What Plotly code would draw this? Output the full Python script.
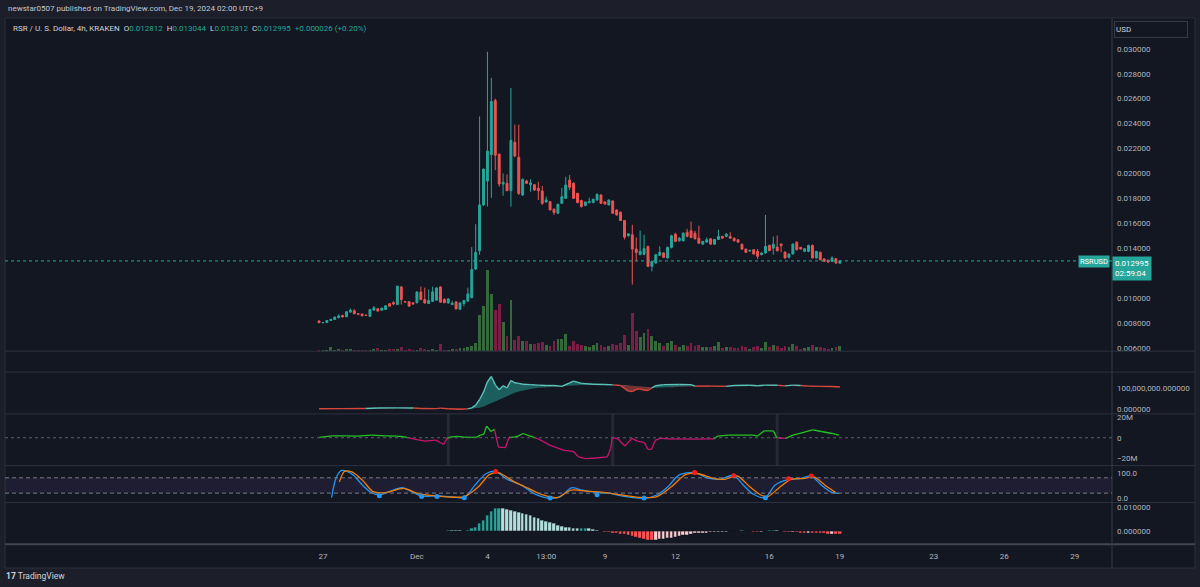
import plotly.graph_objects as go

W, H = 1200, 587

# ---------------- data ----------------
candle_open = [
    0.00818, 0.00804, 0.00806, 0.00822, 0.00830, 0.00845, 0.00862, 0.00852, 0.00889, 0.00900,
    0.00876, 0.00873, 0.00865, 0.00855, 0.00905, 0.00916, 0.00905, 0.00910, 0.00956, 0.00965,
    0.00950, 0.01091, 0.00972, 0.00972, 0.00963, 0.00964, 0.01050, 0.00990, 0.00958, 0.00975,
    0.00985, 0.01091, 0.00990, 0.00962, 0.00950, 0.00971, 0.00912, 0.00958, 0.00977, 0.01004,
    0.01235, 0.01381, 0.01748, 0.01940, 0.02152, 0.02585, 0.02155, 0.01916, 0.01921, 0.01862,
    0.02250, 0.02131, 0.01828, 0.01940, 0.01910, 0.01910, 0.01881, 0.01860, 0.01772, 0.01775,
    0.01714, 0.01682, 0.01761, 0.01801, 0.01947, 0.01921, 0.01841, 0.01783, 0.01743, 0.01767,
    0.01767, 0.01788, 0.01828, 0.01772, 0.01748, 0.01780, 0.01708, 0.01690, 0.01623, 0.01501,
    0.01509, 0.01394, 0.01350, 0.01352, 0.01416, 0.01256, 0.01283, 0.01344, 0.01363, 0.01323,
    0.01408, 0.01514, 0.01461, 0.01461, 0.01530, 0.01541, 0.01522, 0.01482, 0.01434, 0.01450,
    0.01477, 0.01434, 0.01472, 0.01496, 0.01496, 0.01496, 0.01482, 0.01469, 0.01434, 0.01394,
    0.01378, 0.01389, 0.01376, 0.01349, 0.01363, 0.01424, 0.01402, 0.01410, 0.01434, 0.01370,
    0.01328, 0.01355, 0.01450, 0.01408, 0.01376, 0.01376, 0.01424, 0.01323, 0.01368, 0.01315,
    0.01304, 0.01296, 0.01317, 0.012812]
candle_high = [
    0.00822, 0.00810, 0.00825, 0.00836, 0.00853, 0.00871, 0.00868, 0.00895, 0.00918, 0.00912,
    0.00882, 0.00878, 0.00870, 0.00912, 0.00937, 0.00922, 0.00925, 0.00943, 0.00960, 0.00977,
    0.01100, 0.01095, 0.00975, 0.00975, 0.00970, 0.01055, 0.01093, 0.01085, 0.01070, 0.01093,
    0.01087, 0.01095, 0.01000, 0.01000, 0.00980, 0.00977, 0.00970, 0.00985, 0.01085, 0.01410,
    0.01594, 0.02458, 0.02040, 0.02976, 0.02766, 0.02600, 0.02160, 0.02001, 0.01993, 0.02686,
    0.02391, 0.02391, 0.01960, 0.01950, 0.01953, 0.01915, 0.01934, 0.01900, 0.01815, 0.01780,
    0.01720, 0.01758, 0.01885, 0.01974, 0.01987, 0.01930, 0.01845, 0.01790, 0.01775, 0.01806,
    0.01798, 0.01840, 0.01832, 0.01778, 0.01790, 0.01785, 0.01712, 0.01695, 0.01628, 0.01520,
    0.01589, 0.01488, 0.01543, 0.01509, 0.01420, 0.01300, 0.01355, 0.01416, 0.01370, 0.01415,
    0.01510, 0.01525, 0.01490, 0.01528, 0.01557, 0.01615, 0.01541, 0.01581, 0.01460, 0.01488,
    0.01482, 0.01475, 0.01549, 0.01500, 0.01522, 0.01530, 0.01485, 0.01472, 0.01438, 0.01398,
    0.01388, 0.01392, 0.01395, 0.01368, 0.01668, 0.01430, 0.01495, 0.01503, 0.01440, 0.01375,
    0.01358, 0.01440, 0.01455, 0.01412, 0.01400, 0.01430, 0.01430, 0.01380, 0.01375, 0.01320,
    0.01310, 0.01336, 0.01322, 0.013044]
candle_low = [
    0.00802, 0.00800, 0.00803, 0.00818, 0.00826, 0.00840, 0.00845, 0.00850, 0.00885, 0.00872,
    0.00865, 0.00855, 0.00860, 0.00852, 0.00900, 0.00895, 0.00900, 0.00907, 0.00935, 0.00945,
    0.00948, 0.00950, 0.00968, 0.00935, 0.00950, 0.00960, 0.00985, 0.00958, 0.00955, 0.00970,
    0.00980, 0.00964, 0.00960, 0.00958, 0.00945, 0.00910, 0.00905, 0.00935, 0.00975, 0.01000,
    0.01225, 0.01349, 0.01740, 0.01735, 0.01805, 0.02027, 0.01894, 0.01822, 0.01860, 0.01735,
    0.02130, 0.01828, 0.01820, 0.01915, 0.01854, 0.01860, 0.01788, 0.01748, 0.01765, 0.01705,
    0.01668, 0.01675, 0.01755, 0.01795, 0.01868, 0.01795, 0.01761, 0.01727, 0.01738, 0.01760,
    0.01762, 0.01783, 0.01757, 0.01750, 0.01745, 0.01676, 0.01662, 0.01620, 0.01472, 0.01495,
    0.01110, 0.01296, 0.01345, 0.01345, 0.01250, 0.01216, 0.01278, 0.01340, 0.01325, 0.01318,
    0.01400, 0.01450, 0.01455, 0.01455, 0.01490, 0.01480, 0.01470, 0.01435, 0.01430, 0.01445,
    0.01430, 0.01430, 0.01468, 0.01478, 0.01490, 0.01478, 0.01455, 0.01445, 0.01390, 0.01364,
    0.01374, 0.01350, 0.01315, 0.01345, 0.01358, 0.01378, 0.01349, 0.01375, 0.01370, 0.01318,
    0.01320, 0.01350, 0.01385, 0.01390, 0.01370, 0.01370, 0.01320, 0.01318, 0.01305, 0.01293,
    0.01285, 0.01290, 0.01275, 0.012812]
candle_close = [
    0.00804, 0.00806, 0.00822, 0.00830, 0.00849, 0.00858, 0.00852, 0.00892, 0.00905, 0.00876,
    0.00873, 0.00860, 0.00862, 0.00910, 0.00924, 0.00897, 0.00921, 0.00940, 0.00937, 0.00955,
    0.01097, 0.00990, 0.00971, 0.00937, 0.00955, 0.01051, 0.00990, 0.00962, 0.00982, 0.01051,
    0.01083, 0.00969, 0.00965, 0.00995, 0.00960, 0.00915, 0.00963, 0.00982, 0.01035, 0.01230,
    0.01368, 0.01748, 0.02035, 0.02179, 0.02577, 0.02147, 0.01916, 0.01930, 0.01862, 0.02266,
    0.02141, 0.01841, 0.01953, 0.01921, 0.01925, 0.01868, 0.01862, 0.01761, 0.01788, 0.01708,
    0.01687, 0.01753, 0.01814, 0.01908, 0.01889, 0.01801, 0.01767, 0.01735, 0.01772, 0.01775,
    0.01793, 0.01833, 0.01761, 0.01756, 0.01788, 0.01682, 0.01668, 0.01623, 0.01490, 0.01517,
    0.01394, 0.01368, 0.01376, 0.01397, 0.01256, 0.01296, 0.01349, 0.01368, 0.01328, 0.01408,
    0.01501, 0.01456, 0.01482, 0.01522, 0.01496, 0.01488, 0.01477, 0.01442, 0.01456, 0.01469,
    0.01434, 0.01472, 0.01496, 0.01482, 0.01514, 0.01482, 0.01461, 0.01450, 0.01394, 0.01368,
    0.01384, 0.01355, 0.01336, 0.01363, 0.01416, 0.01381, 0.01434, 0.01381, 0.01421, 0.01323,
    0.01355, 0.01434, 0.01389, 0.01395, 0.01397, 0.01424, 0.01323, 0.01376, 0.01309, 0.01296,
    0.01291, 0.01323, 0.01283, 0.012995]
volume_m = [
    0.7, 0.7, 1, 4, 1.7, 2.7, 1.3, 2, 2.7, 1.3,
    1.3, 1.7, 1, 1, 2, 3, 1.7, 1.7, 2, 2.7,
    2, 4, 1, 2.3, 1.3, 1.7, 3.7, 2.3, 1, 2.3,
    1.3, 7.7, 1.7, 0.7, 2.7, 2.7, 3.3, 3.3, 4, 5.3,
    8.7, 36, 45.7, 82, 58, 42, 48, 29, 15, 52,
    11, 15, 10, 10, 7, 7, 8, 9, 6, 5,
    10, 12, 12, 17, 5, 10, 7, 6, 5, 4,
    6, 8, 6, 4, 5, 7, 6, 8, 16, 6,
    38, 20, 14, 18, 22, 15, 10, 8, 5, 8,
    10, 6, 4, 6, 5, 8, 5, 6, 4, 4,
    4, 5, 9, 3, 4, 4, 3, 3, 5, 4,
    2, 4, 5, 3, 9, 4, 6, 5, 3, 5,
    4, 7, 5, 2, 3, 4, 6, 4, 4, 3,
    2, 3, 4, 5]

# time axis (candle index: 0 = Nov 26 21:00, 4h candles)
time_tick_idx = [1, 25, 43, 58, 73, 91, 115, 133, 157, 175, 193]
time_tick_text = ['27', 'Dec', '4', '13:00', '9', '12', '16', '19', '23', '26', '29']

# 0.012000 is hidden behind the last-price label in the reference
price_tick_vals = [0.030, 0.028, 0.026, 0.024, 0.022, 0.020, 0.018, 0.016, 0.014,
                   0.010, 0.008, 0.006]

# pane 3: volume-based line (millions) and its slow average
obv_idx = [0, 6, 12, 15, 20, 24, 26, 30, 31, 33, 36, 38, 39, 40, 41, 42, 43, 44, 45, 46,
           47, 48, 49, 50, 51, 52, 54, 56, 58, 60, 62, 64, 65, 67, 70, 73, 75, 77, 78, 79,
           80, 81, 82, 83, 84, 85, 86, 88, 92, 95, 96, 100, 104, 106, 110, 112, 114, 117, 119, 121,
           123, 125, 128, 131, 133]
obv_fast = [1, 1.5, 2, 4, 5, 4, 2, 1.5, 4, 1, -2, 0, 5, 18, 45, 80, 130, 155, 115, 92,
            111, 100, 136, 125, 122, 118, 116, 114, 112, 112, 108, 125, 133, 122, 118, 117, 115, 112, 98, 85,
            83, 93, 96, 90, 88, 100, 111, 116, 117, 116, 109, 109, 108, 112, 113, 111, 114, 113, 110, 114,
            112, 109, 108, 107, 105]
obv_slow = [1.5, 2, 2.2, 2.5, 3, 3.5, 3.5, 3, 3, 2.5, 1.5, 1, 1.5, 3, 6, 12, 20, 30, 40, 48,
            56, 63, 70, 77, 83, 88, 95, 101, 105, 108, 110, 111, 113, 115, 116, 116, 116, 115, 114, 112,
            110, 108, 106, 104, 102, 101, 101, 103, 107, 110, 111, 111, 110, 110, 111, 112, 111, 112, 112, 112,
            112, 111, 110, 109, 108]

# pane 4: weekly-reset delta line (millions)
cvd_idx = [0, 3.4, 7, 9.7, 13.4, 17, 19.8, 21.6, 22.5, 24.3, 27.1, 29.8, 30.9, 31.8, 32.7, 33.4, 35.3, 37.1, 38.9, 40.3,
           41.2, 42.1, 42.8, 43.9, 44.8, 45.8, 47.6, 48.5, 49.9, 50.8, 52.1, 53.9, 55.3, 57.2, 59.0, 62.6, 64.9, 66.3, 68.1, 70.8,
           73.6, 74.5, 74.9, 76.3, 78.1, 79.9, 81.3, 83.1, 84.0, 84.9, 85.9, 87.2, 89.1, 95.4, 100.9, 101.8, 104.6, 110.9, 111.9, 113.7,
           116, 116.9, 119.2, 121, 122.8, 126, 128.3, 131, 132.8]
cvd_vals = [0.3, 1.9, 1.9, 1.5, 2.5, 1.9, 1.5, 0.95, 0.3, -1.3, -3.2, -2.2, -4.5, -6.3, -0.5, 0.6, 1.3, 0.6, 0.3, 0.6,
            2.5, 3.5, 11.2, 6.0, 8.0, -8.9, -9.5, 0.3, 0.6, 1.6, 4.1, 1.6, 0.0, -3.5, -7.3, -12.1, -13.0, -18.4, -20.0, -19.4,
            -18.4, -10, 0.3, -1.0, -7.9, -0.6, -3.2, -4.7, -11.1, -11.1, -2.2, -0.6, -1.0, -1.3, -1.0, 1.6, 2.5, 2.5, 1.5, 6.7,
            6.7, 0.0, -0.6, 2.5, 4.1, 7.6, 6.0, 4.1, 2.5]
week_breaks = [33, 75, 117]

# pane 5: stochastic-type oscillator
stoch_k_idx = [3.2, 4.3, 5.6, 7.0, 8.8, 11.1, 13.4, 15.4, 17.9, 21.1, 23.4, 26.2, 30.1, 33.4, 37.1, 39.8, 42.6, 45.1, 48.0, 51.7,
               55.3, 59.0, 61.7, 64.4, 67.2, 71.0, 74.5, 77.2, 83.0, 86.3, 89.1, 91.8, 95.9, 99.1, 102.3, 105.9, 108.2, 110.9, 114.0, 116.4,
               119.9, 122.8, 125.7, 128.3, 131.0, 132.8]
stoch_k = [2.5, 76.9, 108, 106, 89.7, 51.2, 21.8, 12.8, 25.6, 41, 28.2, 9, 9, 6.4, 2.5, 51.2, 96, 105, 74.3, 51.2,
           15.4, 0, 6.4, 41, 32, 23, 19.2, 9, 0, 12.8, 44.8, 89.7, 101.2, 79.4, 74.3, 89.7, 53.8, 15.4, 2.5, 51.2,
           74.3, 76.9, 87.1, 51.2, 23, 19.2]
stoch_d_idx = [5.2, 6.5, 8.4, 11.1, 13.8, 17.0, 21.6, 25.2, 30.1, 37.1, 40.7, 43.5, 45.8, 49.9, 53.5, 57.2, 60.8, 64.4, 68.1, 72.7,
               77.2, 82.7, 86.3, 90.0, 93.6, 96.8, 100.9, 103.7, 106.8, 110.0, 112.8, 114.6, 117.3, 120.5, 123.7, 126.4, 129.2, 131.9]
stoch_d = [64, 105, 103, 70.5, 25.6, 21.8, 38.4, 19.2, 9, 6.4, 44.8, 92.3, 100, 64, 38.4, 12.8, 2.5, 32, 28.2, 23,
           12.8, 2.5, 6.4, 44.8, 92.3, 96, 76.9, 74.3, 87.1, 44.8, 12.8, 6.4, 38.4, 74.3, 76.9, 83.3, 51.2, 23]
cross_up_idx = [15.4, 26.2, 30.1, 37.1, 59.0, 71.0, 83.0, 114.0]
cross_up_val = [10, 6.4, 6.4, 2, 1, 14, 1, 2]
cross_dn_idx = [45.1, 95.9, 105.9, 119.9, 125.7]
cross_dn_val = [105, 101, 88, 76, 87]

# pane 6: histogram (starts at candle 33)
hist_start = 33
hist_vals = [
    0.0005, 0.0004, 0.0003, 0.0002, 0.0001, 0.0003, 0.0010, 0.0018,
    0.0032, 0.0046, 0.0065, 0.0083, 0.0095, 0.0097, 0.0096, 0.0092, 0.0089, 0.0085,
    0.0080, 0.0076, 0.0071, 0.0065, 0.0060, 0.0053, 0.0047, 0.0042, 0.0036, 0.0031,
    0.0026, 0.0022, 0.0018, 0.0015, 0.0013, 0.0012, 0.0013, 0.0014, 0.0012, 0.0009,
    0.0003, 0.0001, -0.0003, -0.0005, -0.0007, -0.0009, -0.0012, -0.0015, -0.0018, -0.0022,
    -0.0026, -0.0030, -0.0034, -0.0037, -0.0038, -0.0037, -0.0036, -0.0034, -0.0032, -0.0029,
    -0.0026, -0.0022, -0.0019, -0.0016, -0.0013, -0.0011, -0.0009, -0.0008, -0.0007, -0.0006,
    -0.0005, -0.0004, -0.0003, -0.0003, -0.0002, -0.0002, 0.0001, 0.0002, 0.0001, -0.0002,
    -0.0003, -0.0004, -0.0003, -0.0001, 0.0002, 0.0003, 0.0002, -0.0002, -0.0004, -0.0006,
    -0.0005, -0.0006, -0.0007, -0.0008, -0.0007, -0.0008, -0.0009, -0.0010, -0.0011, -0.0012,
    -0.0012, -0.0013, -0.0014]

# ---------------- styling / layout ----------------
BG = '#131722'
OUTER = '#1c1f2a'
GRIDLINE = '#2a2e39'
TXT = '#b2b5be'
UP = '#26a69a'
DN = '#ef5350'
FONT = 'Roboto'
FS = 8

X_LEFT, X_RIGHT = 5, 1112
XR = [-80.2, 202.5]


def px(x):
    return x / W


def py(y):
    return 1 - y / H


def dom(top, bot):
    return [1 - bot / H, 1 - top / H]


xdom = [px(X_LEFT), px(X_RIGHT)]
n = len(candle_open)
idx = list(range(n))
last_close = candle_close[-1]

fig = go.Figure()

# volume (behind candles)
vol_colors = ['#35683b' if c >= o else '#7a1e45' for o, c in zip(candle_open, candle_close)]
fig.add_trace(go.Bar(x=idx, y=volume_m, marker=dict(color=vol_colors, line=dict(width=0)),
                     width=0.72, xaxis='x', yaxis='y', showlegend=False, hoverinfo='skip'))
# candles
fig.add_trace(go.Candlestick(x=idx, open=candle_open, high=candle_high, low=candle_low, close=candle_close,
                             increasing=dict(line=dict(color=UP, width=1), fillcolor=UP),
                             decreasing=dict(line=dict(color=DN, width=1), fillcolor=DN),
                             whiskerwidth=0, xaxis='x', yaxis='y2', showlegend=False, hoverinfo='skip'))

# pane 3: filled cloud between fast and slow
upper = [max(f, s) for f, s in zip(obv_fast, obv_slow)]
lower = [min(f, s) for f, s in zip(obv_fast, obv_slow)]
for edge, col in ((upper, 'rgba(38,166,154,0.5)'), (lower, 'rgba(239,83,80,0.45)')):
    fig.add_trace(go.Scatter(x=obv_idx, y=obv_slow, mode='lines', line=dict(width=0),
                             xaxis='x2', yaxis='y3', showlegend=False, hoverinfo='skip'))
    fig.add_trace(go.Scatter(x=obv_idx, y=edge, mode='lines', line=dict(width=0), fill='tonexty',
                             fillcolor=col, xaxis='x2', yaxis='y3', showlegend=False, hoverinfo='skip'))


def split_by(xs, ys, cond):
    ax, ay, bx, by = [], [], [], []
    for k in range(len(xs) - 1):
        if cond(k):
            ax += [xs[k], xs[k + 1], None]
            ay += [ys[k], ys[k + 1], None]
        else:
            bx += [xs[k], xs[k + 1], None]
            by += [ys[k], ys[k + 1], None]
    return ax, ay, bx, by


tx, ty, rx, ry = split_by(obv_idx, obv_fast,
                          lambda k: obv_fast[k] + obv_fast[k + 1] >= obv_slow[k] + obv_slow[k + 1])
fig.add_trace(go.Scatter(x=rx, y=ry, mode='lines', line=dict(color='#d9463a', width=1.4),
                         xaxis='x2', yaxis='y3', showlegend=False, hoverinfo='skip'))
fig.add_trace(go.Scatter(x=tx, y=ty, mode='lines', line=dict(color='#5cc3b8', width=1.4),
                         xaxis='x2', yaxis='y3', showlegend=False, hoverinfo='skip'))

# pane 4
gx, gy, mx, my = split_by(cvd_idx, cvd_vals, lambda k: cvd_vals[k] + cvd_vals[k + 1] >= 0)
fig.add_trace(go.Scatter(x=mx, y=my, mode='lines', line=dict(color='#c8146e', width=1.3),
                         xaxis='x3', yaxis='y4', showlegend=False, hoverinfo='skip'))
fig.add_trace(go.Scatter(x=gx, y=gy, mode='lines', line=dict(color='#22c322', width=1.3),
                         xaxis='x3', yaxis='y4', showlegend=False, hoverinfo='skip'))

# pane 5
fig.add_trace(go.Scatter(x=stoch_k_idx, y=stoch_k, mode='lines', line=dict(color='#2196f3', width=1.3, shape='spline', smoothing=0.8),
                         xaxis='x4', yaxis='y5', showlegend=False, hoverinfo='skip'))
fig.add_trace(go.Scatter(x=stoch_d_idx, y=stoch_d, mode='lines', line=dict(color='#f57c00', width=1.3, shape='spline', smoothing=0.8),
                         xaxis='x4', yaxis='y5', showlegend=False, hoverinfo='skip'))
fig.add_trace(go.Scatter(x=cross_up_idx, y=cross_up_val, mode='markers', marker=dict(color='#2196f3', size=5),
                         xaxis='x4', yaxis='y5', showlegend=False, hoverinfo='skip'))
fig.add_trace(go.Scatter(x=cross_dn_idx, y=cross_dn_val, mode='markers', marker=dict(color='#ff1a1a', size=5),
                         xaxis='x4', yaxis='y5', showlegend=False, hoverinfo='skip'))

# pane 6 histogram
hist_idx = [hist_start + k for k in range(len(hist_vals))]
hist_colors = []
for k, v in enumerate(hist_vals):
    prev = hist_vals[k - 1] if k > 0 else 0
    if v >= 0:
        hist_colors.append('#26a69a' if v > prev else '#b2dfdb')
    else:
        hist_colors.append('#ff5252' if v < prev else '#ffcdd2')
fig.add_trace(go.Bar(x=hist_idx, y=hist_vals, marker=dict(color=hist_colors, line=dict(color=BG, width=0.6)),
                     width=0.9, xaxis='x5', yaxis='y6', showlegend=False, hoverinfo='skip'))

# ---------------- axes ----------------
tickfont = dict(family=FONT, size=FS, color=TXT)
base_x = dict(domain=xdom, range=XR, showgrid=False, zeroline=False, showline=False,
              showticklabels=False, ticks='', fixedrange=True)
base_y = dict(showgrid=False, zeroline=False, showline=False, ticks='', side='right',
              tickfont=tickfont, fixedrange=True, ticklabelstandoff=4)

layout = dict(
    width=W, height=H, margin=dict(l=0, r=0, t=0, b=0),
    paper_bgcolor=OUTER, plot_bgcolor=BG, showlegend=False, bargap=0,
    font=dict(family=FONT, size=FS, color=TXT),
    xaxis=dict(base_x, anchor='y', rangeslider=dict(visible=False)),
    yaxis=dict(base_y, domain=dom(17, 352), range=[0, 335], showticklabels=False, anchor='x'),
    yaxis2=dict(base_y, overlaying='y', range=[0.005758, 0.032472], anchor='x',
                tickvals=price_tick_vals, ticktext=['%.6f' % v for v in price_tick_vals]),
    xaxis2=dict(base_x, anchor='y3'),
    yaxis3=dict(base_y, domain=dom(373, 415), range=[-23.8, 176.2], anchor='x2',
                tickvals=[0, 100], ticktext=['0.000000', '100,000,000.000000']),
    xaxis3=dict(base_x, anchor='y4'),
    yaxis4=dict(base_y, domain=dom(415, 467), range=[-26.7, 22.9], anchor='x3',
                tickvals=[20, 0, -20], ticktext=['20M', '0', '\u221220M']),
    xaxis4=dict(base_x, anchor='y5'),
    yaxis5=dict(base_y, domain=dom(467, 504), range=[-16.4, 127.8], anchor='x4',
                tickvals=[0, 100], ticktext=['0.0', '100.0']),
    xaxis5=dict(base_x, anchor='y6', showticklabels=True, tickvals=time_tick_idx, ticktext=time_tick_text,
                tickfont=tickfont, ticklabelstandoff=6),
    yaxis6=dict(base_y, domain=dom(504, 546), range=[-0.00542, 0.01208], anchor='x5',
                tickvals=[0, 0.01], ticktext=['0.000000', '0.010000']),
)
fig.update_layout(**layout)

# ---------------- shapes ----------------
shapes = []
# chart container background + border
shapes.append(dict(type='rect', xref='paper', yref='paper', x0=px(5), x1=px(1195), y0=py(570), y1=py(17),
                   fillcolor=BG, line=dict(color=GRIDLINE, width=1), layer='below'))
# pane 5 band
shapes.append(dict(type='rect', xref='paper', yref='y5', x0=px(X_LEFT), x1=px(X_RIGHT), y0=20, y1=80,
                   fillcolor='rgba(126,87,194,0.1)', line=dict(width=0), layer='below'))
# pane 4 weekly separators
for wb in week_breaks:
    shapes.append(dict(type='line', xref='x3', yref='y4 domain', x0=wb, x1=wb, y0=0, y1=1,
                       line=dict(color='#252935', width=3), layer='below'))
# pane separators
for yy in (352, 373, 415, 467, 504):
    shapes.append(dict(type='line', xref='paper', yref='paper', x0=px(5), x1=px(1195), y0=py(yy), y1=py(yy),
                       line=dict(color='#2e3240', width=1)))
shapes.append(dict(type='line', xref='paper', yref='paper', x0=px(5), x1=px(1195), y0=py(546), y1=py(546),
                   line=dict(color='#434651', width=2)))
shapes.append(dict(type='line', xref='paper', yref='paper', x0=px(X_RIGHT), x1=px(X_RIGHT), y0=py(570), y1=py(17),
                   line=dict(color='#363a45', width=1)))
# current price dotted line
shapes.append(dict(type='line', xref='paper', yref='y2', x0=px(X_LEFT), x1=px(X_RIGHT), y0=last_close, y1=last_close,
                   line=dict(color=UP, width=1, dash='dot')))
# pane 4 zero line
shapes.append(dict(type='line', xref='paper', yref='y4', x0=px(X_LEFT), x1=px(X_RIGHT), y0=0, y1=0,
                   line=dict(color='#5d606b', width=1, dash='dot')))
# pane 5 band edges
for lv in (80, 20):
    shapes.append(dict(type='line', xref='paper', yref='y5', x0=px(X_LEFT), x1=px(X_RIGHT), y0=lv, y1=lv,
                       line=dict(color='#787b86', width=1, dash='4px,3px')))
fig.update_layout(shapes=shapes)

# ---------------- annotations ----------------
sp = '\u00a0'
val = lambda s: '<span style="color:#26a69a">%s</span>' % s
header = ('RSR / U. S. Dollar, 4h, KRAKEN' + sp * 2 + 'O' + val('0.012812') + sp * 2 + 'H' + val('0.013044') +
          sp * 2 + 'L' + val('0.012812') + sp * 2 + 'C' + val('0.012995') + sp * 2 + val('+0.000026 (+0.20%)'))
ann = [
    dict(xref='paper', yref='paper', x=px(6), y=py(8), xanchor='left', yanchor='middle', showarrow=False,
         text='newstar0507 published on TradingView.com, Dec 19, 2024 02:00 UTC+9',
         font=dict(family=FONT, size=FS, color='#c3c6ce')),
    dict(xref='paper', yref='paper', x=px(11), y=py(28), xanchor='left', yanchor='middle', showarrow=False,
         text=header, font=dict(family=FONT, size=FS, color='#d1d4dc')),
    dict(xref='paper', yref='paper', x=px(1114), y=py(28.5), xanchor='left', yanchor='middle', showarrow=False,
         text='USD', align='left', width=70, height=13, bordercolor='#363a45', borderwidth=1, borderpad=1,
         bgcolor=BG, font=dict(family=FONT, size=FS, color='#d1d4dc')),
    dict(xref='paper', yref='y2', x=px(1112), y=last_close, xanchor='left', yanchor='top', yshift=5,
         showarrow=False, text='0.012995<br>02:59:04', align='left', bgcolor=UP, borderpad=2,
         font=dict(family=FONT, size=FS, color='#ffffff')),
    dict(xref='paper', yref='y2', x=px(1110), y=last_close, xanchor='right', yanchor='middle', yshift=-1,
         showarrow=False, text='RSRUSD', bgcolor=UP, borderpad=1,
         font=dict(family=FONT, size=7.5, color='#ffffff')),
    dict(xref='paper', yref='paper', x=px(4), y=py(578), xanchor='left', yanchor='middle', showarrow=False,
         text='<b>17</b>' + sp + 'TradingView', font=dict(family=FONT, size=8.5, color='#d1d4dc')),
]
fig.update_layout(annotations=ann)

fig.write_html("out.html", post_script="document.body.style.margin='0';document.body.style.overflow='hidden';")
